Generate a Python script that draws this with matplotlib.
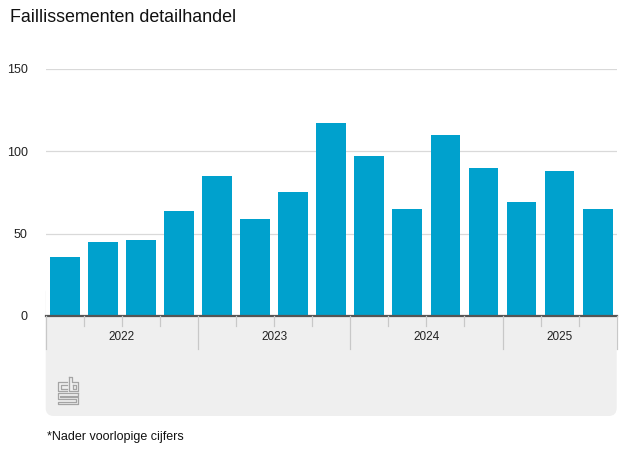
import matplotlib.pyplot as plt
from matplotlib.patches import FancyBboxPatch

plt.rcParams['font.family'] = ['Liberation Sans', 'DejaVu Sans']

# data
years = ['2022', '2023', '2024', '2025']
quarters_per_year = [4, 4, 4, 3]
values = [36, 45, 46, 64, 85, 59, 75, 117, 97, 65, 110, 90, 69, 88, 65]
yticks = [0, 50, 100, 150]

W, H = 627, 470
fig = plt.figure(figsize=(W / 100, H / 100), dpi=100)

# axes placed in pixel terms
ax_l, ax_r, ax_b, ax_t = 45.7, 616.7, 316, 69
ax = fig.add_axes([ax_l / W, 1 - ax_b / H, (ax_r - ax_l) / W, (ax_b - ax_t) / H])

n = len(values)
x = list(range(n))
ax.bar(x, values, width=0.78, color='#00a1cd', zorder=3)
ax.set_xlim(-0.5, n - 0.5)
ax.set_ylim(0, 150)
ax.set_yticks(yticks)
ax.set_yticklabels([str(v) for v in yticks], fontsize=9, color='#222222')
ax.tick_params(axis='y', length=0, pad=13)
ax.set_xticks([])
ax.grid(axis='y', color='#d9d9d9', linewidth=0.9, zorder=0)
for s in ['top', 'right', 'left']:
    ax.spines[s].set_visible(False)
ax.spines['bottom'].set_color('#555555')
ax.spines['bottom'].set_linewidth(1.6)
ax.spines['bottom'].set_zorder(5)

# grey panel below the axis (rounded bottom corners)
panel = FancyBboxPatch(((ax_l + 5) / W, 1 - 411 / H), (ax_r - ax_l - 10) / W, (411 - 290) / H,
                       boxstyle='round,pad=0,rounding_size=0.012',
                       transform=fig.transFigure, facecolor='#efefef', edgecolor='none',
                       zorder=-1, mutation_aspect=W / H)
panel.set_boxstyle('round,pad=%f,rounding_size=%f' % (5 / W, 8 / W))
fig.patches.append(panel)

# overlay in pixel coordinates for the category axis and decorations
ov = fig.add_axes([0, 0, 1, 1], zorder=10)
ov.set_xlim(0, W)
ov.set_ylim(H, 0)
ov.axis('off')

slot = (ax_r - ax_l) / n
pos = 0
edges = [0]
for q in quarters_per_year:
    pos += q
    edges.append(pos)
for i in range(n + 1):
    px = ax_l + slot * i
    if i in edges:
        ov.plot([px, px], [ax_b, 349], color='#c8c8c8', linewidth=0.9)
    else:
        ov.plot([px, px], [ax_b, 326], color='#c8c8c8', linewidth=0.9)
for k, yr in enumerate(years):
    cx = ax_l + slot * (edges[k] + edges[k + 1]) / 2
    ov.text(cx, 337, yr, ha='center', va='center', fontsize=8.5, color='#222222')

# cbs logo approximation
lc = '#a4a4a4'
lw = 0.9
ov.plot([67, 58, 58, 67], [382, 382, 391, 391], color=lc, lw=lw)
ov.plot([67, 60.5, 60.5, 67], [384.5, 384.5, 388.5, 388.5], color=lc, lw=lw)
ov.plot([69, 69, 78, 78, 71.5, 71.5, 69], [377, 391, 391, 382, 382, 377, 377], color=lc, lw=lw)
ov.plot([72.5, 75.5, 75.5, 72.5, 72.5], [385, 385, 388.5, 388.5, 385], color=lc, lw=lw)
ov.plot([78, 57.5, 57.5, 75.5, 75.5, 57.5, 57.5, 78, 78, 60, 60, 78, 78],
        [393, 393, 399, 399, 401.5, 401.5, 404, 404, 396.5, 396.5, 395.5, 395.5, 393],
        color=lc, lw=lw)

fig.text(10 / W, 1 - 18 / H, 'Faillissementen detailhandel', fontsize=12.9,
         ha='left', va='center', color='#111111')
fig.text(47 / W, 1 - 437 / H, '*Nader voorlopige cijfers', fontsize=9,
         ha='left', va='center', color='#111111')

fig.savefig('out.png', dpi=100)
